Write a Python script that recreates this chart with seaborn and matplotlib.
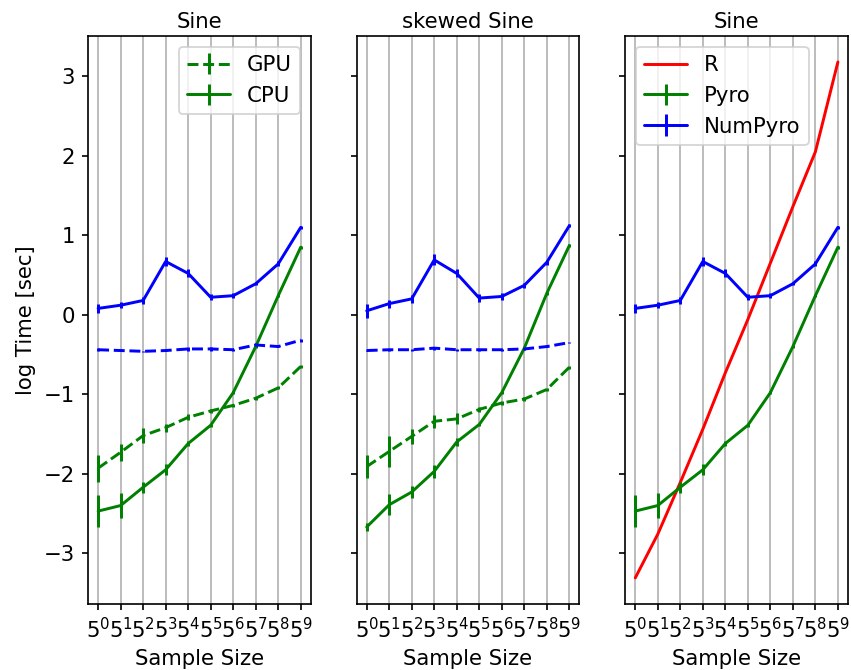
import numpy as np
import pandas as pd
import matplotlib
matplotlib.use("Agg")
import matplotlib.pyplot as plt
import seaborn as sns

# Sample sizes 5^0 .. 5^9, plotted at integer exponents
exponents = list(range(10))
tick_labels = [f"$5^{{{k}}}$" for k in exponents]

# --- Sine: Pyro / NumPyro on GPU and CPU (log time, seconds) ---
sine_pyro_gpu = [-1.93, -1.73, -1.52, -1.42, -1.29, -1.21, -1.14, -1.05, -0.92, -0.65]
sine_pyro_gpu_err = [0.17, 0.11, 0.09, 0.05, 0.04, 0.03, 0.02, 0.02, 0.02, 0.02]
sine_pyro_cpu = [-2.47, -2.40, -2.17, -1.95, -1.62, -1.39, -0.98, -0.40, 0.24, 0.85]
sine_pyro_cpu_err = [0.20, 0.16, 0.07, 0.07, 0.03, 0.02, 0.02, 0.02, 0.02, 0.02]
sine_numpyro_gpu = [-0.44, -0.45, -0.46, -0.45, -0.43, -0.43, -0.44, -0.38, -0.40, -0.32]
sine_numpyro_gpu_err = [0.02, 0.01, 0.01, 0.01, 0.02, 0.02, 0.01, 0.02, 0.01, 0.02]
sine_numpyro_cpu = [0.08, 0.12, 0.18, 0.67, 0.52, 0.22, 0.24, 0.39, 0.64, 1.10]
sine_numpyro_cpu_err = [0.06, 0.04, 0.04, 0.06, 0.05, 0.04, 0.03, 0.02, 0.03, 0.02]

# --- skewed Sine ---
skew_pyro_gpu = [-1.91, -1.72, -1.53, -1.34, -1.31, -1.19, -1.11, -1.06, -0.94, -0.66]
skew_pyro_gpu_err = [0.14, 0.19, 0.09, 0.08, 0.07, 0.03, 0.02, 0.02, 0.02, 0.02]
skew_pyro_cpu = [-2.67, -2.39, -2.23, -1.97, -1.60, -1.38, -0.98, -0.42, 0.27, 0.87]
skew_pyro_cpu_err = [0.05, 0.13, 0.07, 0.08, 0.05, 0.02, 0.02, 0.02, 0.02, 0.02]
skew_numpyro_gpu = [-0.45, -0.44, -0.44, -0.42, -0.44, -0.44, -0.44, -0.43, -0.40, -0.35]
skew_numpyro_gpu_err = [0.01, 0.01, 0.01, 0.02, 0.01, 0.01, 0.01, 0.01, 0.01, 0.01]
skew_numpyro_cpu = [0.05, 0.14, 0.20, 0.69, 0.52, 0.21, 0.23, 0.37, 0.66, 1.12]
skew_numpyro_cpu_err = [0.09, 0.05, 0.05, 0.07, 0.05, 0.05, 0.04, 0.03, 0.03, 0.02]

# --- Sine: R vs Pyro vs NumPyro (CPU) ---
sine_r = [-3.31, -2.76, -2.11, -1.44, -0.73, -0.06, 0.65, 1.36, 2.05, 3.18]

sns.set_style("ticks", {
    "axes.edgecolor": "black",
    "xtick.color": "black",
    "ytick.color": "black",
    "text.color": "black",
    "axes.labelcolor": "black",
    "grid.color": "#b0b0b0",
    "font.family": ["DejaVu Sans"],
})
FS = 11.5
plt.rcParams.update({
    "font.family": ["DejaVu Sans"],
    "font.size": FS,
    "axes.titlesize": FS,
    "axes.labelsize": FS,
    "xtick.labelsize": FS,
    "ytick.labelsize": FS,
    "legend.fontsize": FS,
    "axes.linewidth": 0.9,
    "xtick.major.width": 0.9,
    "ytick.major.width": 0.9,
    "xtick.major.size": 3.5,
    "ytick.major.size": 3.5,
    "grid.linewidth": 0.9,
    "lines.linewidth": 1.6,
    "axes.titlepad": 4.5,
})

DPI = 133
fig, axes = plt.subplots(1, 3, sharey=True, figsize=(851 / DPI, 670 / DPI), dpi=DPI)
fig.subplots_adjust(left=0.1034, right=0.9965, top=0.946, bottom=0.099, wspace=0.205)

x = np.array(exponents)


def draw_err(ax, y, err, color, ls, label=None):
    ax.errorbar(x, y, yerr=err, color=color, linestyle=ls, capsize=0, label=label)


# Panel 1: Sine, GPU vs CPU
ax = axes[0]
draw_err(ax, sine_pyro_gpu, sine_pyro_gpu_err, "green", "--", "GPU")
draw_err(ax, sine_pyro_cpu, sine_pyro_cpu_err, "green", "-", "CPU")
draw_err(ax, sine_numpyro_gpu, sine_numpyro_gpu_err, "blue", "--")
draw_err(ax, sine_numpyro_cpu, sine_numpyro_cpu_err, "blue", "-")
ax.set_title("Sine")
ax.set_ylabel("log Time [sec]")
ax.legend(loc="upper right")

# Panel 2: skewed Sine, GPU vs CPU
ax = axes[1]
draw_err(ax, skew_pyro_gpu, skew_pyro_gpu_err, "green", "--")
draw_err(ax, skew_pyro_cpu, skew_pyro_cpu_err, "green", "-")
draw_err(ax, skew_numpyro_gpu, skew_numpyro_gpu_err, "blue", "--")
draw_err(ax, skew_numpyro_cpu, skew_numpyro_cpu_err, "blue", "-")
ax.set_title("skewed Sine")

# Panel 3: Sine, R vs Pyro vs NumPyro
ax = axes[2]
r_df = pd.DataFrame({"exponent": exponents, "log_time": sine_r})
sns.lineplot(data=r_df, x="exponent", y="log_time", color="red", label="R", ax=ax)
draw_err(ax, sine_pyro_cpu, sine_pyro_cpu_err, "green", "-", "Pyro")
draw_err(ax, sine_numpyro_cpu, sine_numpyro_cpu_err, "blue", "-", "NumPyro")
ax.set_title("Sine")
ax.legend(loc="upper left")

for ax in axes:
    ax.set_xticks(exponents)
    ax.set_xticklabels(tick_labels)
    ax.set_xlabel("Sample Size")
    ax.grid(axis="x")
    ax.grid(axis="y", visible=False)
    ax.set_xlim(-0.45, 9.45)
axes[0].set_yticks([-3, -2, -1, 0, 1, 2, 3])
axes[1].set_ylabel("")
axes[2].set_ylabel("")
axes[1].tick_params(labelleft=False)
axes[2].tick_params(labelleft=False)

fig.savefig("out.png", dpi=DPI)
